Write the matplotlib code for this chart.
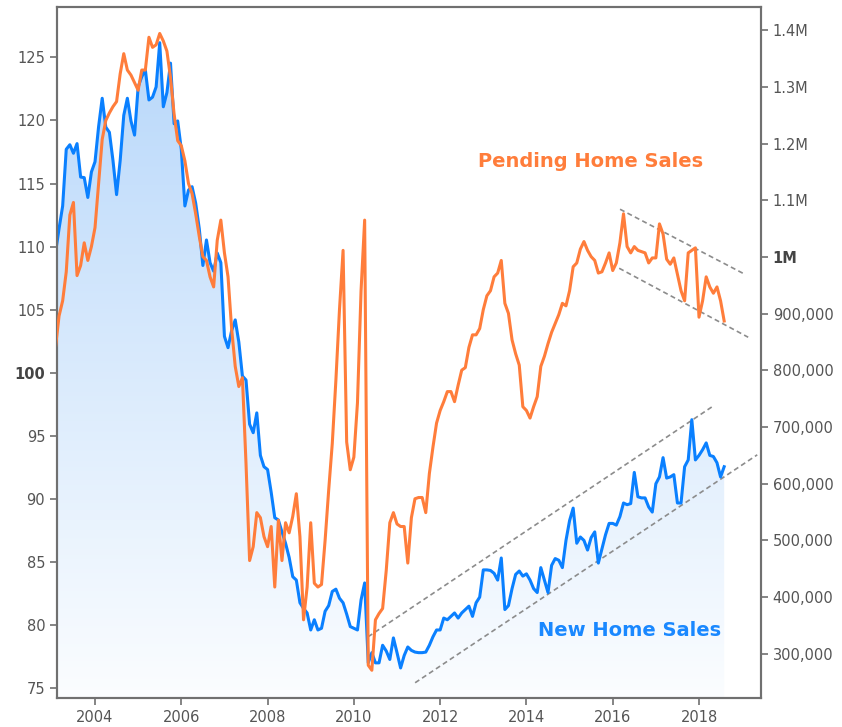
import numpy as np
import matplotlib
matplotlib.use("Agg")
import matplotlib.pyplot as plt
from matplotlib.colors import LinearSegmentedColormap

# monthly data, Feb 2003 .. Aug 2018
start_year, start_month = 2003, 2

# New Home Sales (thousands, SAAR) - right axis
new_home_sales = [
    1007, 1050, 1090, 1190, 1198, 1183, 1200, 1141, 1140, 1105, 1150,           # 2003
    1168, 1230, 1280, 1229, 1220, 1170, 1110, 1170, 1250, 1280, 1240, 1215,     # 2004
    1300, 1318, 1330, 1277, 1282, 1300, 1378, 1265, 1290, 1342, 1235, 1240,     # 2005
    1190, 1090, 1118, 1124, 1095, 1050, 985, 1030, 990, 975, 1007, 990,         # 2006
    860, 840, 870, 889, 850, 790, 783, 705, 690, 725, 650, 630,                 # 2007
    625, 585, 540, 536, 515, 495, 470, 436, 430, 390, 380, 372,                 # 2008
    342, 360, 342, 345, 375, 385, 410, 414, 398, 390, 370, 348,                 # 2009
    345, 342, 395, 425, 284, 302, 284, 284, 315, 305, 290, 328,                 # 2010
    302, 275, 297, 312, 306, 303, 302, 302, 303, 315, 330, 342,                 # 2011
    342, 363, 360, 366, 372, 363, 372, 378, 384, 366, 390, 400,                 # 2012
    448, 448, 447, 442, 430, 469, 378, 385, 415, 440, 446, 437,                 # 2013
    441, 430, 415, 408, 452, 430, 408, 456, 468, 465, 452, 500,                 # 2014
    535, 557, 495, 506, 500, 483, 505, 515, 460, 485, 510, 530,                 # 2015
    530, 527, 542, 566, 563, 565, 620, 577, 575, 575, 559, 550,                 # 2016
    600, 612, 646, 610, 612, 616, 566, 566, 630, 642, 713, 642,                 # 2017
    650, 660, 672, 650, 648, 637, 612, 630,                                     # 2018
]

# Pending Home Sales Index - left axis
pending_home_sales = [
    102.0, 104.5, 105.7, 108.0, 112.5, 113.5, 107.7, 108.5, 110.3, 108.9, 110.0,        # 2003
    111.5, 115.0, 118.5, 120.0, 120.6, 121.1, 121.5, 123.7, 125.3, 124.0, 123.6, 123.0,  # 2004
    122.4, 124.0, 124.0, 126.6, 125.8, 126.0, 126.9, 126.3, 125.5, 123.4, 120.5, 118.4,  # 2005
    118.0, 116.8, 115.0, 114.2, 112.6, 110.8, 109.2, 108.9, 107.6, 106.8, 110.5, 112.1,  # 2006
    109.5, 107.6, 103.5, 100.5, 98.9, 99.6, 92.8, 85.1, 86.2, 88.9, 88.5, 87.0,          # 2007
    86.2, 87.8, 83.0, 88.3, 85.1, 88.1, 87.3, 88.6, 90.4, 87.0, 80.4, 83.0,              # 2008
    88.1, 83.3, 83.0, 83.2, 86.7, 90.7, 94.4, 99.4, 105.0, 109.7, 94.5, 92.3,            # 2009
    93.3, 97.6, 106.5, 112.1, 76.8, 76.4, 80.4, 80.9, 81.3, 84.3, 88.1, 88.9,            # 2010
    88.0, 87.8, 87.8, 84.9, 88.5, 90.0, 90.1, 90.1, 88.9, 92.0, 94.1, 96.0,              # 2011
    97.0, 97.7, 98.5, 98.5, 97.7, 99.0, 100.2, 100.4, 102.0, 103.0, 103.0, 103.5,        # 2012
    105.0, 106.1, 106.5, 107.6, 107.9, 108.9, 105.5, 104.7, 102.6, 101.5, 100.6, 97.3,   # 2013
    97.0, 96.4, 97.3, 98.1, 100.5, 101.3, 102.3, 103.2, 103.9, 104.6, 105.5, 105.3,      # 2014
    106.5, 108.4, 108.7, 109.8, 110.4, 109.7, 109.2, 108.9, 107.9, 108.0, 108.7, 109.5,  # 2015
    108.1, 108.7, 110.3, 112.6, 110.0, 109.5, 110.0, 109.7, 109.6, 109.5, 108.7, 109.1,  # 2016
    109.1, 111.8, 111.0, 109.0, 108.6, 109.1, 107.8, 106.5, 105.7, 109.5, 109.7, 109.9,  # 2017
    104.4, 105.7, 107.6, 106.8, 106.3, 106.8, 105.7, 104.1,                              # 2018
]

# trend channels (year, value)
pending_upper = [(2016.17, 112.96), (2019.02, 107.88)]
pending_lower = [(2016.15, 108.28), (2019.14, 102.81)]
new_upper = [(2010.33, 330), (2018.30, 735.6)]
new_lower = [(2011.42, 248.9), (2019.35, 651.0)]

left_ticks = [75, 80, 85, 90, 95, 100, 105, 110, 115, 120, 125]
right_ticks = [300, 400, 500, 600, 700, 800, 900, 1000, 1100, 1200, 1300, 1400]
right_labels = ["300,000", "400,000", "500,000", "600,000", "700,000", "800,000",
                "900,000", "1M", "1.1M", "1.2M", "1.3M", "1.4M"]
year_ticks = [2004, 2006, 2008, 2010, 2012, 2014, 2016, 2018]

ORANGE = "#ff7d3b"
BLUE = "#0a80ff"
GREY = "#555555"


def month_axis(n):
    m = np.arange(n) + (start_month - 1)
    return start_year + m / 12.0


def style_axis(ax):
    for s in ax.spines.values():
        s.set_color("#707070")
        s.set_linewidth(1.5)
    ax.tick_params(colors="#707070", labelcolor=GREY, labelsize=10.5, length=5, width=1.2)


def main():
    x = month_axis(len(new_home_sales))
    xlim = (2003.119, 2019.437)
    ylim_new = (222, 1441)
    ylim_pend = (74.2, 129.0)

    fig = plt.figure(figsize=(8.42, 7.27), dpi=100)
    ax_new = fig.add_axes([57 / 842, 29 / 727, 704 / 842, 691 / 727])
    ax_pend = ax_new.twinx()

    # gradient area under new home sales
    poly = ax_new.fill_between(x, new_home_sales, ylim_new[0], color="none", lw=0)
    grad = np.linspace(1, 0, 256).reshape(-1, 1)
    cmap = LinearSegmentedColormap.from_list("fill", ["#fbfdff", "#b5d6fa"])
    im = ax_new.imshow(grad, cmap=cmap, aspect="auto", origin="upper",
                       extent=[xlim[0], xlim[1], ylim_new[0], ylim_new[1]], zorder=1)
    im.set_clip_path(poly.get_paths()[0], transform=ax_new.transData)
    ax_new.plot(x, new_home_sales, color=BLUE, lw=2.2, zorder=3)

    for seg in (new_upper, new_lower):
        xs, ys = zip(*seg)
        ax_new.plot(xs, ys, color="#8c8c8c", lw=1.2, ls=(0, (3, 2)), zorder=2)

    ax_pend.plot(x, pending_home_sales, color=ORANGE, lw=2.2, zorder=3)
    for seg in (pending_upper, pending_lower):
        xs, ys = zip(*seg)
        ax_pend.plot(xs, ys, color="#8c8c8c", lw=1.2, ls=(0, (3, 2)), zorder=2)

    ax_new.set_xlim(*xlim)
    ax_new.set_ylim(*ylim_new)
    ax_pend.set_ylim(*ylim_pend)

    # blue axis ticks on the right, orange index on the left
    ax_new.yaxis.tick_right()
    ax_pend.yaxis.tick_left()
    ax_new.set_yticks(right_ticks)
    ax_new.set_yticklabels(right_labels)
    ax_pend.set_yticks(left_ticks)
    ax_pend.set_yticklabels([str(v) for v in left_ticks])
    ax_new.set_xticks(year_ticks)
    ax_new.set_xticklabels([str(y) for y in year_ticks])

    style_axis(ax_new)
    style_axis(ax_pend)
    for lab in ax_new.get_yticklabels():
        if lab.get_text() == "1M":
            lab.set_fontweight("bold")
            lab.set_color("#444444")
    for lab in ax_pend.get_yticklabels():
        if lab.get_text() == "100":
            lab.set_fontweight("bold")
            lab.set_color("#444444")

    ax_pend.text(0.7585, 0.7757, "Pending Home Sales", transform=ax_pend.transAxes,
                 color=ORANGE, fontsize=14, fontweight="bold", ha="center", va="center")
    ax_pend.text(0.814, 0.097, "New Home Sales", transform=ax_pend.transAxes,
                 color="#1a88ff", fontsize=14, fontweight="bold", ha="center", va="center")

    fig.savefig("out.png", dpi=100)


if __name__ == "__main__":
    main()
